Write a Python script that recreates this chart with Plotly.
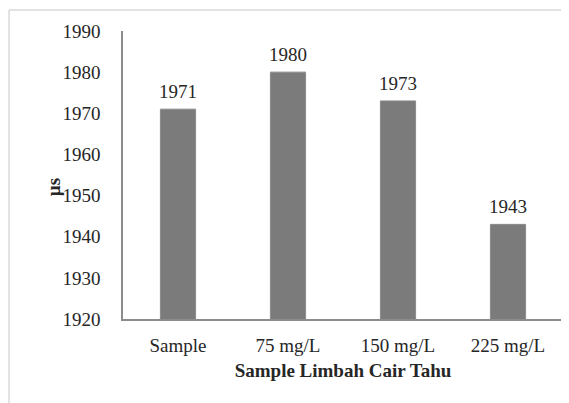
import plotly.graph_objects as go

categories = ["Sample", "75 mg/L", "150 mg/L", "225 mg/L"]
values = [1971, 1980, 1973, 1943]
y_ticks = [1920, 1930, 1940, 1950, 1960, 1970, 1980, 1990]
x_title = "Sample Limbah Cair Tahu"
y_title = "µs"

FONT = "Liberation Serif"
TXT = "#262626"

fig = go.Figure(go.Bar(
    x=categories, y=values, width=0.32,
    marker=dict(color="#7b7b7b", line=dict(color="#8a8a8a", width=1)),
))

for c, v in zip(categories, values):
    fig.add_annotation(x=c, y=v, text=str(v), showarrow=False, yanchor="bottom",
                       yshift=5, font=dict(family=FONT, size=19, color=TXT))

fig.add_annotation(xref="paper", yref="paper", x=-0.159, y=0.458, text=f"<b>{y_title}</b>",
                   textangle=-90, showarrow=False, xanchor="center", yanchor="middle",
                   font=dict(family=FONT, size=19, color=TXT))

# outer chart border (top and left edges visible)
fig.add_shape(type="line", xref="paper", yref="paper", x0=-0.259, x1=1.05, y0=1.0729, y1=1.0729,
              line=dict(color="#d9d9d9", width=1.5))
fig.add_shape(type="line", xref="paper", yref="paper", x0=-0.259, x1=-0.259, y0=-0.35, y1=1.0729,
              line=dict(color="#d9d9d9", width=1.5))

fig.update_layout(
    width=561, height=395,
    margin=dict(l=115, r=6, t=23, b=84),
    paper_bgcolor="white", plot_bgcolor="white",
    showlegend=False,
    font=dict(family=FONT, size=19, color=TXT),
    xaxis=dict(showline=True, linecolor="#8c8c8c", linewidth=1.5, ticks="", showgrid=False,
               tickfont=dict(family=FONT, size=19, color=TXT), ticklabelstandoff=8,
               title=dict(text=f"<b>{x_title}</b>", font=dict(family=FONT, size=19, color=TXT), standoff=9)),
    yaxis=dict(range=[1920, 1990], tickvals=y_ticks, showline=True, linecolor="#8c8c8c", linewidth=1.5,
               ticks="", showgrid=False, zeroline=False,
               tickfont=dict(family=FONT, size=19, color=TXT), ticklabelstandoff=17),
)

fig.write_html("out.html")
